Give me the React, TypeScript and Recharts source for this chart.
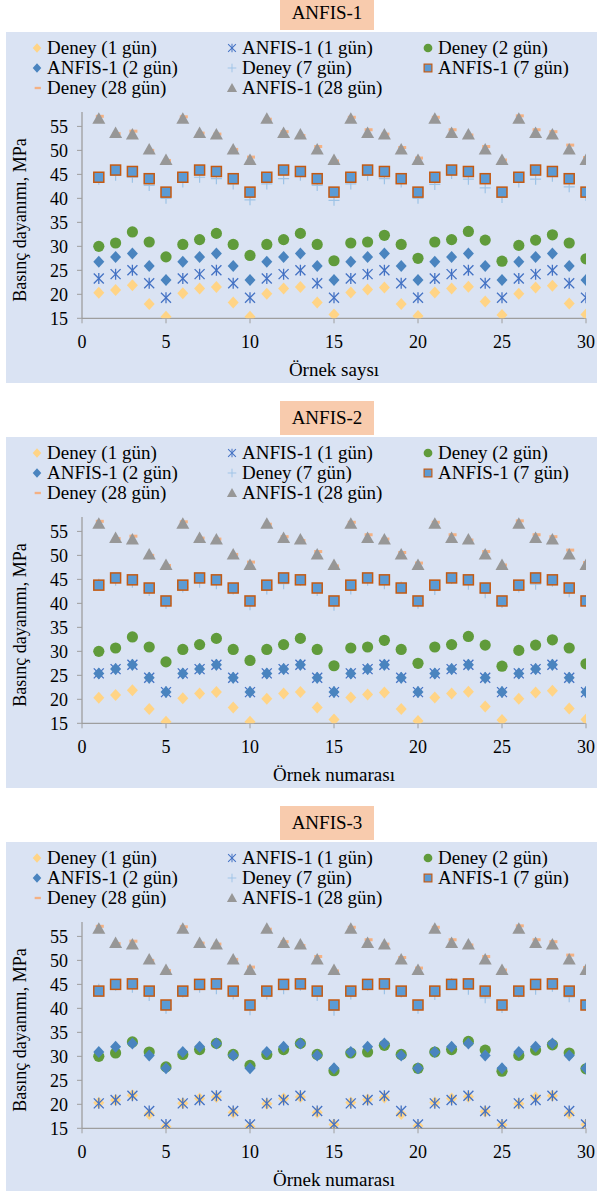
import React from 'react';
import { ScatterChart, Scatter, XAxis, YAxis } from 'recharts';

const SAMPLE_NO = [1, 2, 3, 4, 5, 6, 7, 8, 9, 10, 11, 12, 13, 14, 15, 16, 17, 18, 19, 20, 21, 22, 23, 24, 25, 26, 27, 28, 29, 30];

// Deney (measured) values, shared by all three panels
const DENEY_1 = [20.3, 20.9, 21.9, 18.0, 15.3, 20.2, 21.2, 21.5, 18.3, 15.3, 20.1, 21.2, 21.5, 18.3, 15.8, 20.4, 21.0, 21.4, 18.0, 15.5, 20.4, 21.2, 21.6, 18.5, 15.7, 20.1, 21.4, 21.8, 18.1, 15.8];
const DENEY_2 = [30.0, 30.7, 33.0, 30.9, 27.8, 30.4, 31.4, 32.7, 30.4, 28.1, 30.4, 31.4, 32.7, 30.4, 27.0, 30.7, 30.9, 32.3, 30.4, 27.5, 30.9, 31.4, 33.1, 31.3, 26.9, 30.2, 31.3, 32.4, 30.7, 27.4];
const DENEY_7 = [44.0, 44.8, 44.4, 42.7, 40.0, 43.4, 44.4, 44.1, 43.0, 39.7, 43.0, 44.1, 44.8, 42.7, 39.6, 43.0, 44.8, 44.1, 43.4, 40.0, 42.9, 45.2, 44.0, 42.2, 40.2, 43.4, 44.0, 44.6, 42.4, 40.6];
const DENEY_28 = [57.1, 53.5, 54.0, 50.0, 47.9, 57.0, 53.6, 53.4, 50.2, 48.6, 56.5, 53.9, 53.1, 50.8, 47.8, 56.9, 54.3, 53.4, 50.6, 48.4, 56.9, 54.3, 53.2, 50.8, 48.0, 57.2, 54.3, 53.9, 51.1, 48.5];
const ANFIS_28 = [56.6, 53.6, 53.3, 50.2, 48.0, 56.6, 53.6, 53.3, 50.2, 48.0, 56.6, 53.6, 53.3, 50.2, 48.0, 56.6, 53.6, 53.3, 50.2, 48.0, 56.6, 53.6, 53.3, 50.2, 48.0, 56.6, 53.6, 53.3, 50.2, 48.0];

// ANFIS-1 model
const M1_1 = [23.3, 24.2, 25.0, 22.3, 19.3, 23.3, 24.2, 25.0, 22.3, 19.3, 23.3, 24.2, 25.0, 22.3, 19.3, 23.3, 24.2, 25.0, 22.3, 19.3, 23.3, 24.2, 25.0, 22.3, 19.3, 23.3, 24.2, 25.0, 22.3, 19.3];
const M1_2 = [26.8, 27.8, 28.5, 25.9, 23.0, 26.8, 27.8, 28.5, 25.9, 23.0, 26.8, 27.8, 28.5, 25.9, 23.0, 26.8, 27.8, 28.5, 25.9, 23.0, 26.8, 27.8, 28.5, 25.9, 23.0, 26.8, 27.8, 28.5, 25.9, 23.0];
const M1_7 = [44.4, 45.9, 45.6, 44.1, 41.3, 44.4, 45.9, 45.6, 44.1, 41.3, 44.4, 45.9, 45.6, 44.1, 41.3, 44.4, 45.9, 45.6, 44.1, 41.3, 44.4, 45.9, 45.6, 44.1, 41.3, 44.4, 45.9, 45.6, 44.1, 41.3];

// ANFIS-2 model
const M2_1 = [25.4, 26.3, 27.2, 24.5, 21.5, 25.4, 26.3, 27.2, 24.5, 21.5, 25.4, 26.3, 27.2, 24.5, 21.5, 25.4, 26.3, 27.2, 24.5, 21.5, 25.4, 26.3, 27.2, 24.5, 21.5, 25.4, 26.3, 27.2, 24.5, 21.5];
const M2_2 = [25.4, 26.3, 27.2, 24.5, 21.5, 25.4, 26.3, 27.2, 24.5, 21.5, 25.4, 26.3, 27.2, 24.5, 21.5, 25.4, 26.3, 27.2, 24.5, 21.5, 25.4, 26.3, 27.2, 24.5, 21.5, 25.4, 26.3, 27.2, 24.5, 21.5];
const M2_7 = [43.8, 45.3, 44.9, 43.2, 40.5, 43.8, 45.3, 44.9, 43.2, 40.5, 43.8, 45.3, 44.9, 43.2, 40.5, 43.8, 45.3, 44.9, 43.2, 40.5, 43.8, 45.3, 44.9, 43.2, 40.5, 43.8, 45.3, 44.9, 43.2, 40.5];

// ANFIS-3 model
const M3_1 = [20.2, 20.9, 21.8, 18.6, 15.8, 20.2, 20.9, 21.8, 18.6, 15.8, 20.2, 20.9, 21.8, 18.6, 15.8, 20.2, 20.9, 21.8, 18.6, 15.8, 20.2, 20.9, 21.8, 18.6, 15.8, 20.2, 20.9, 21.8, 18.6, 15.8];
const M3_2 = [30.9, 32.0, 32.7, 30.2, 27.5, 30.9, 32.0, 32.7, 30.2, 27.5, 30.9, 32.0, 32.7, 30.2, 27.5, 30.9, 32.0, 32.7, 30.2, 27.5, 30.9, 32.0, 32.7, 30.2, 27.5, 30.9, 32.0, 32.7, 30.2, 27.5];
const M3_7 = [43.6, 45.0, 45.1, 43.6, 40.7, 43.6, 45.0, 45.1, 43.6, 40.7, 43.6, 45.0, 45.1, 43.6, 40.7, 43.6, 45.0, 45.1, 43.6, 40.7, 43.6, 45.0, 45.1, 43.6, 40.7, 43.6, 45.0, 45.1, 43.6, 40.7];

const X_TICKS = [0, 5, 10, 15, 20, 25, 30];
const Y_TICKS = [15, 20, 25, 30, 35, 40, 45, 50, 55];

const FONT = 'Liberation Serif';
const BG = '#DAE3F3';
const AXIS = '#9E9E9E';

type Pt = { cx?: number; cy?: number };

const Diamond = (fill: string) => (p: Pt) => {
  const { cx = 0, cy = 0 } = p;
  return <polygon points={`${cx},${cy - 6} ${cx + 5.5},${cy} ${cx},${cy + 6} ${cx - 5.5},${cy}`} fill={fill} />;
};
const Star = (p: Pt) => {
  const { cx = 0, cy = 0 } = p;
  const r = 5;
  return (
    <g stroke="#4472C4" strokeWidth={1.3}>
      <line x1={cx} y1={cy - r - 0.5} x2={cx} y2={cy + r + 0.5} />
      <line x1={cx - r} y1={cy - r} x2={cx + r} y2={cy + r} />
      <line x1={cx - r} y1={cy + r} x2={cx + r} y2={cy - r} />
    </g>
  );
};
const Dot = (p: Pt) => <circle cx={p.cx} cy={p.cy} r={5.6} fill="#609B3B" />;
const Plus = (p: Pt) => {
  const { cx = 0, cy = 0 } = p;
  return (
    <g stroke="#9DC3E6" strokeWidth={1.2}>
      <line x1={cx - 5.5} y1={cy} x2={cx + 5.5} y2={cy} />
      <line x1={cx} y1={cy - 5.5} x2={cx} y2={cy + 5.5} />
    </g>
  );
};
const Square = (p: Pt) => {
  const { cx = 0, cy = 0 } = p;
  return <rect x={cx - 5} y={cy - 5} width={10} height={10} fill="#5B9BD5" stroke="#C55A11" strokeWidth={1.5} />;
};
const Dash = (p: Pt) => {
  const { cx = 0, cy = 0 } = p;
  return <rect x={cx - 3} y={cy - 1.5} width={8} height={3} fill="#F4B183" />;
};
const Tri = (p: Pt) => {
  const { cx = 0, cy = 0 } = p;
  return <polygon points={`${cx},${cy - 6.5} ${cx + 6.5},${cy + 5} ${cx - 6.5},${cy + 5}`} fill="#979797" />;
};

const pts = (ys: number[]) => ys.map((y, i) => ({ x: SAMPLE_NO[i], y }));

function Panel({ top, title, m1, m2, m7, xTitle }: { top: number; title: string; m1: number[]; m2: number[]; m7: number[]; xTitle: string }) {
  const series: { name: string; ys: number[]; shape: (p: Pt) => React.ReactElement }[] = [
    { name: 'Deney (1 gün)', ys: DENEY_1, shape: Diamond('#FFD486') },
    { name: 'ANFIS-1 (1 gün)', ys: m1, shape: Star },
    { name: 'Deney (2 gün)', ys: DENEY_2, shape: Dot },
    { name: 'ANFIS-1 (2 gün)', ys: m2, shape: Diamond('#4A84BF') },
    { name: 'Deney (7 gün)', ys: DENEY_7, shape: Plus },
    { name: 'ANFIS-1 (7 gün)', ys: m7, shape: Square },
    { name: 'Deney (28 gün)', ys: DENEY_28, shape: Dash },
    { name: 'ANFIS-1 (28 gün)', ys: ANFIS_28, shape: Tri },
  ];
  const cols = [37, 232, 428];
  const rows = [48, 68, 88];

  return (
    <div style={{ position: 'absolute', left: 0, top, width: 600, height: 390, fontFamily: FONT }}>
      <div style={{ position: 'absolute', left: 6, top: 32, width: 591, height: 351, background: BG }} />
      <div style={{ position: 'absolute', left: 280, top: -4, width: 94, height: 34, background: '#F8CBAD', fontSize: 19, color: '#000', display: 'flex', alignItems: 'center', justifyContent: 'center' }}>{title}</div>
      {series.map((s, i) => {
        const lx = cols[i % 3];
        const ly = rows[Math.floor(i / 3)];
        return (
          <div key={s.name} style={{ position: 'absolute', left: lx - 7, top: ly - 12, height: 24, display: 'flex', alignItems: 'center', fontSize: 19, color: '#000', whiteSpace: 'nowrap' }}>
            <svg width={14} height={14} style={{ marginRight: 3 }}>
              <g transform="translate(7,7) scale(0.78) translate(-7,-7)">{s.shape({ cx: 7, cy: 7 })}</g>
            </svg>
            <span>{s.name}</span>
          </div>
        );
      })}
      <div style={{ position: 'absolute', left: 0, top: 0 }}>
        <ScatterChart width={600} height={390} margin={{ top: 112, right: 14, left: 22, bottom: 41.7 }} style={{ overflow: 'visible', fontFamily: FONT }}>
          <XAxis
            type="number"
            dataKey="x"
            domain={[0, 30]}
            ticks={X_TICKS}
            interval={0}
            height={30}
            tickSize={5}
            tickMargin={12}
            axisLine={{ stroke: AXIS, strokeWidth: 1.3 }}
            tickLine={{ stroke: AXIS }}
            tick={{ fontFamily: FONT, fontSize: 18, fill: '#000' }}
            allowDataOverflow
          />
          <YAxis
            type="number"
            dataKey="y"
            domain={[15, 58]}
            ticks={Y_TICKS}
            interval={0}
            width={60}
            tickSize={5}
            tickMargin={9}
            axisLine={{ stroke: AXIS, strokeWidth: 1.3 }}
            tickLine={{ stroke: AXIS }}
            tick={{ fontFamily: FONT, fontSize: 18, fill: '#000' }}
            allowDataOverflow
          />
          {series.map((s) => (
            <Scatter key={s.name} name={s.name} data={pts(s.ys)} shape={s.shape} isAnimationActive={false} />
          ))}
        </ScatterChart>
      </div>
      <div style={{ position: 'absolute', left: 0, top: 220, width: 40, height: 0 }}>
        <div style={{ position: 'absolute', left: 20, top: 0, transform: 'translate(-50%, -50%) rotate(-90deg)', fontSize: 18, color: '#000', whiteSpace: 'nowrap' }}>Basınç dayanımı, MPa</div>
      </div>
      <div style={{ position: 'absolute', left: 82, width: 504, top: 358, height: 24, textAlign: 'center', fontSize: 19, color: '#000', lineHeight: '24px' }}>{xTitle}</div>
    </div>
  );
}

export default function App() {
  return (
    <div style={{ position: 'absolute', left: 0, top: 0, width: 600, height: 1191, overflow: 'hidden', background: '#fff' }}>
      <Panel top={0} title="ANFIS-1" m1={M1_1} m2={M1_2} m7={M1_7} xTitle="Örnek saysı" />
      <Panel top={405} title="ANFIS-2" m1={M2_1} m2={M2_2} m7={M2_7} xTitle="Örnek numarası" />
      <Panel top={810} title="ANFIS-3" m1={M3_1} m2={M3_2} m7={M3_7} xTitle="Örnek numarası" />
    </div>
  );
}
